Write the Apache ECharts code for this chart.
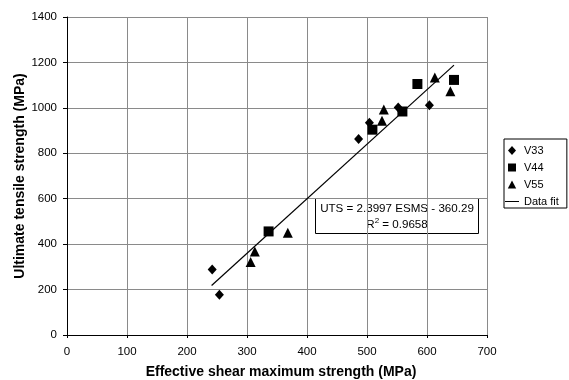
<!DOCTYPE html>
<html>
<head>
<meta charset="utf-8">
<script src="https://cdn.jsdelivr.net/npm/echarts@6/dist/echarts.min.js"></script>
<style>
  html, body { margin: 0; padding: 0; background: #fff; }
  #chart { width: 569px; height: 380px; }
</style>
</head>
<body>
<div id="chart"></div>
<script>
// values
const v33X = [242, 254, 486, 504, 552, 604];
const v33Y = [288, 177, 863, 934, 1002, 1012];
const v44X = [336, 509, 559, 584, 645];
const v44Y = [456, 904, 984, 1105, 1123];
const v55X = [306, 313, 368, 525, 528, 613, 639];
const v55Y = [321, 368, 450, 943, 993, 1134, 1073];
// fitted line, its two ends
const fitX = [241, 645];
const fitY = [218, 1188];
const fitText = ['UTS = 2.3997 ESMS - 360.29', 'R{sup|2} = 0.9658'];

const pairs = (xs, ys) => xs.map((x, i) => [x, ys[i]]);
const font = '"Liberation Sans", Arial, sans-serif';
const plain = v => String(v); // no thousands separator

// legend icons: the leading moves pin the box to 14x9 so the marks keep their shape
const iconDiamond = 'path://M0,0M14,9M7,0L11,4.5L7,9L3,4.5Z';
const iconSquare = 'path://M0,0M14,9M3,0.5L11,0.5L11,8.5L3,8.5Z';
const iconTriangle = 'path://M0,0M14,9M7,0.5L11.2,8.5L2.8,8.5Z';
const iconLine = 'path://M0,0L14,0L14,1L0,1Z';

const chart = echarts.init(document.getElementById('chart'));

const option = {
  animation: false,
  backgroundColor: '#fff',
  textStyle: { fontFamily: font, color: '#000' },
  grid: { left: 67, right: 82, top: 17, bottom: 45, outerBoundsMode: 'none' },
  xAxis: {
    type: 'value',
    min: 0, max: 700, interval: 100,
    name: 'Effective shear maximum strength (MPa)',
    nameLocation: 'middle',
    nameGap: 30,
    nameTextStyle: { fontWeight: 'bold', fontSize: 14, color: '#000', fontFamily: font, padding: [0, 0, 0, 8] },
    axisLine: { lineStyle: { color: '#000', width: 1 } },
    axisTick: { show: true, length: 3, lineStyle: { color: '#000' } },
    axisLabel: { fontSize: 11.5, color: '#000', margin: 11, fontFamily: font, formatter: plain },
    splitLine: { show: true, lineStyle: { color: '#8a8a8a', width: 1 } }
  },
  yAxis: {
    type: 'value',
    min: 0, max: 1400, interval: 200,
    name: 'Ultimate tensile strength (MPa)',
    nameLocation: 'middle',
    nameGap: 40,
    nameMoveOverlap: false,
    nameTextStyle: { fontWeight: 'bold', fontSize: 14, color: '#000', fontFamily: font },
    axisLine: { show: true, lineStyle: { color: '#000', width: 1 } },
    axisTick: { show: true, length: 4, lineStyle: { color: '#000' } },
    axisLabel: { fontSize: 11.5, color: '#000', margin: 10, fontFamily: font, formatter: plain },
    splitLine: { show: true, lineStyle: { color: '#8a8a8a', width: 1 } }
  },
  legend: {
    orient: 'vertical',
    left: 504, top: 139,
    borderColor: '#000', borderWidth: 1,
    borderRadius: 0,
    padding: [6, 8, 1, 1],
    itemGap: 6,
    itemWidth: 14, itemHeight: 9,
    textStyle: { fontSize: 11, color: '#000', fontFamily: font },
    data: [
      { name: 'V33', icon: iconDiamond },
      { name: 'V44', icon: iconSquare },
      { name: 'V55', icon: iconTriangle },
      { name: 'Data fit', icon: iconLine }
    ]
  },
  series: [
    {
      name: 'V33', type: 'scatter', symbol: 'diamond', symbolSize: [9, 10],
      itemStyle: { color: '#000', opacity: 1 },
      data: pairs(v33X, v33Y)
    },
    {
      name: 'V44', type: 'scatter', symbol: 'rect', symbolSize: 10,
      itemStyle: { color: '#000', opacity: 1 },
      data: pairs(v44X, v44Y)
    },
    {
      name: 'V55', type: 'scatter', symbol: 'triangle', symbolSize: 10,
      itemStyle: { color: '#000', opacity: 1 },
      data: pairs(v55X, v55Y)
    },
    {
      name: 'Data fit', type: 'line', symbol: 'none',
      lineStyle: { color: '#000', width: 1.2 },
      itemStyle: { color: '#000' },
      z: 1,
      data: pairs(fitX, fitY)
    }
  ],
  graphic: [
    {
      type: 'group', left: 315, top: 198,
      children: [
        { type: 'rect', shape: { x: 0, y: 0, width: 163, height: 35 },
          style: { fill: '#fff', stroke: '#000', lineWidth: 1 } },
        { type: 'text', x: 81.5, y: 2,
          style: {
            text: fitText.join('\n'),
            align: 'center', verticalAlign: 'top',
            font: '11.6px ' + font, fill: '#000', lineHeight: 16,
            rich: { sup: { fontSize: 8, verticalAlign: 'top', lineHeight: 16, padding: [0, 0, 6, 0] } }
          } }
      ]
    }
  ]
};

chart.setOption(option);
</script>
</body>
</html>
